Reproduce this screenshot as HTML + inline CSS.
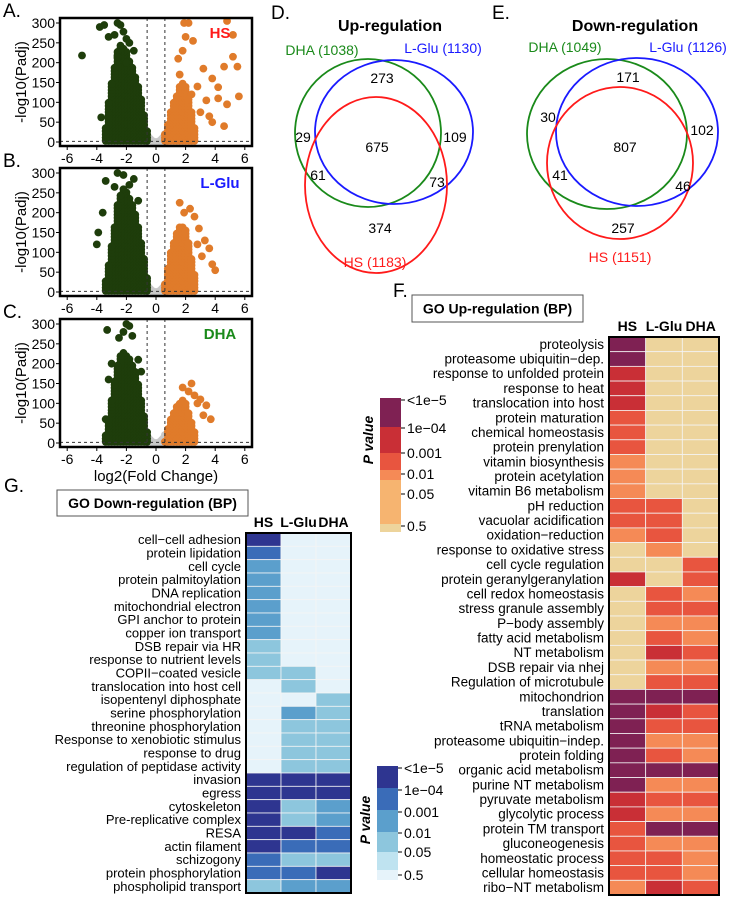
<!DOCTYPE html>
<html><head><meta charset="utf-8">
<style>
html,body{margin:0;padding:0;background:#fff;}
svg{display:block;font-family:"Liberation Sans",sans-serif;}
</style></head>
<body>
<svg id="fig" width="730" height="898" viewBox="0 0 730 898" xmlns="http://www.w3.org/2000/svg">
<g id="volc"></g>
<g id="venn"></g>
<g id="hmF"></g>
<g id="hmG"></g>
</svg>
<script>
// ---------- Volcano data ----------
const volcXTicks = [-6,-4,-2,0,2,4,6];
const volcYTicks = [0,50,100,150,200,250,300];
const panelLetters = ["A.","B.","C."];
const panelNames = ["HS","L-Glu","DHA"];
const downEnvX = [-0.6,-0.8,-1.0,-1.2,-1.4,-1.6,-1.8,-2.0,-2.2,-2.4,-2.6,-2.8,-3.0,-3.2,-3.4];
const upEnvX = [0.6,0.8,1.0,1.2,1.4,1.6,1.8,2.0,2.2,2.4,2.6];
const greyEnvX = [-0.6,-0.5,-0.4,-0.3,-0.2,-0.1,0,0.1,0.2,0.3,0.4,0.5,0.6];
const greyEnvTop = [20,14,8,4,2,1,1,1,2,4,8,14,20];
const downTopA = [30,70,110,140,170,190,210,230,240,250,230,190,150,100,40];
const downTopB = [40,90,130,170,200,220,240,255,260,250,220,170,120,70,30];
const downTopC = [30,70,110,150,180,200,215,225,230,220,200,160,110,60,20];
const upTopA = [20,50,80,100,120,140,150,140,110,80,40];
const upTopB = [20,60,100,130,150,165,170,160,130,90,50];
const upTopC = [10,35,60,80,95,105,110,100,80,55,30];
const downOutA = [[-5,218],[-3.7,62],[-3.8,290],[-3.5,295],[-2.6,300],[-2.4,295],[-2.2,278],[-2.0,260],[-3.2,265],[-2.8,270],[-2.0,200],[-2.6,215],[-1.8,250],[-1.5,230]];
const downOutB = [[-2.6,300],[-2.2,295],[-3.4,280],[-1.5,285],[-3.9,150],[-4.0,120],[-1.8,270],[-2.8,265],[-3.6,200],[-1.2,230]];
const downOutC = [[-2.0,300],[-1.8,295],[-2.2,280],[-1.6,270],[-3.3,285],[-2.5,265],[-1.2,210],[-3.0,200],[-3.4,60],[-1.0,180],[-3.2,160]];
const upOutA = [[1.9,300],[2.2,300],[4.8,305],[5.2,270],[2.0,265],[2.5,255],[1.5,210],[1.8,230],[3.2,185],[3.8,160],[4.6,190],[5.5,190],[5.2,215],[4.2,110],[4.8,95],[5.6,115],[3.4,105],[3.0,75],[3.8,50],[4.6,40],[3.6,65],[2.8,140],[2.4,120],[1.6,170],[4.2,138]];
const upOutB = [[1.6,225],[2.3,210],[2.6,190],[2.9,160],[3.3,130],[3.6,110],[3.1,90],[3.8,70],[4.0,55],[2.8,120],[1.9,200]];
const upOutC = [[1.8,140],[2.2,130],[2.6,120],[3.0,110],[3.4,95],[3.7,60],[2.8,100],[3.2,70],[2.4,150]];

const NS="http://www.w3.org/2000/svg";
function mk(tag, attrs, parent){const e=document.createElementNS(NS,tag);for(const k in attrs)e.setAttribute(k,attrs[k]);if(parent)parent.appendChild(e);return e;}
function txt(parent,x,y,s,size,opts){const t=mk('text',Object.assign({x:x,y:y,'font-size':size},opts||{}),parent);t.textContent=s;return t;}

const volc=document.getElementById('volc');
const panelTops=[18,168,319];
const nameColors=["#ff1a1a","#1a1aff","#1a8a1a"];
const downTops=[downTopA,downTopB,downTopC];
const upTops=[upTopA,upTopB,upTopC];
const downOuts=[downOutA,downOutB,downOutC];
const upOuts=[upOutA,upOutB,upOutC];
const VL=60,VR=252;
function vx(v){return 156+v*14.8;}
panelTops.forEach((top,p)=>{
  const g=mk('g',{},volc);
  
  
  function vy(v){return top+5+(300-v)/300*119;}
  const clip='clipV'+p;
  const cp=mk('clipPath',{id:clip},g);mk('rect',{x:VL,y:top,width:VR-VL,height:128},cp);
  const pts=mk('g',{'clip-path':'url(#'+clip+')'},g);
  function dot(x,y,c){const d=mk('circle',{cx:vx(x),cy:vy(y),r:3.9,fill:c},pts);
    
    }
  greyEnvX.forEach((x,i)=>{for(let y=0;y<=greyEnvTop[i];y+=4)dot(x,y,'#c8c8c8');});
  downEnvX.forEach((x,i)=>{for(let y=3;y<=downTops[p][i];y+=8)dot(x,y,'#1e3d0b');});
  downOuts[p].forEach(d=>dot(d[0],d[1],'#1e3d0b'));
  upEnvX.forEach((x,i)=>{for(let y=3;y<=upTops[p][i];y+=8)dot(x,y,'#e07b2a');});
  upOuts[p].forEach(d=>dot(d[0],d[1],'#e07b2a'));
  // threshold lines
  const th=mk('g',{stroke:'#333','stroke-width':1,'stroke-dasharray':'3,3'},g);
  
  
  mk('line',{x1:vx(-0.6),x2:vx(-0.6),y1:top,y2:top+128},th);
  mk('line',{x1:vx(0.6),x2:vx(0.6),y1:top,y2:top+128},th);
  mk('line',{x1:VL,x2:VR,y1:vy(1.5),y2:vy(1.5)},th);
  const fr=mk('rect',{x:VL,y:top,width:VR-VL,height:128,fill:'none',stroke:'#000','stroke-width':2.5},g);
  
  
  volcYTicks.forEach(v=>{
    mk('line',{x1:VL-4,x2:VL,y1:vy(v),y2:vy(v),stroke:'#000','stroke-width':1},g);
    const t=txt(g,VL-5,vy(v)+5,String(v),14,{'text-anchor':'end'});
    
    
  });
  volcXTicks.forEach(v=>{
    mk('line',{x1:vx(v),x2:vx(v),y1:top+128,y2:top+132,stroke:'#000','stroke-width':1},g);
    const t=txt(g,vx(v),top+145,String(v),14,{'text-anchor':'middle'});
    
    
  });
  const yl=txt(g,0,0,'-log10(Padj)',15,{'text-anchor':'middle',transform:'translate(26,'+(top+64)+') rotate(-90)'});
  
  
  const pl=txt(g,3,top-1,panelLetters[p],19,{});
  
  
  const nm=txt(g,220,top+20,panelNames[p],15,{'text-anchor':'middle','font-weight':'bold',fill:nameColors[p]});
  
  
});
const xt=txt(volc,156,481,'log2(Fold Change)',15,{'text-anchor':'middle'});



// ---------- Venn ----------
const vennUpCounts=["273","29","675","109","61","73","374"];
const vennDownCounts=["171","30","807","102","41","46","257"];
const vennUpSets=["DHA (1038)","L-Glu (1130)","HS (1183)"];
const vennDownSets=["DHA (1049)","L-Glu (1126)","HS (1151)"];
const venn=document.getElementById('venn');
function drawVenn(cfg){
  const g=mk('g',{},venn);
  
  
  txt(g,cfg.letter[0],cfg.letter[1],cfg.letterText,19,{});
  const t=txt(g,cfg.title[0],cfg.title[1],cfg.titleText,16,{'text-anchor':'middle','font-weight':'bold'});
  
  
  const cols=['#1a8a1a','#1a1aff','#ff1a1a'];
  cfg.ell.forEach((e,i)=>{
    const el=mk('ellipse',{cx:e[0],cy:e[1],rx:e[2],ry:e[3],fill:'none',stroke:cols[i],'stroke-width':1.8},g);
    
    
    const l=txt(g,cfg.labels[i][0],cfg.labels[i][1],cfg.sets[i],14,{'text-anchor':'middle',fill:cols[i]});
    
    
  });
  cfg.counts.forEach((c,i)=>{
    const n=txt(g,cfg.pos[i][0],cfg.pos[i][1]+5,c,14,{'text-anchor':'middle'});
    
    
  });
}
drawVenn({name:'venn-up',letter:[271,19],letterText:'D.',title:[390,31],titleText:'Up-regulation',
  ell:[[368,133,73,74],[394,132,79,72],[376,185,71,88]],labels:[[322,55],[443,53],[375,267]],sets:vennUpSets,
  counts:vennUpCounts,pos:[[382,78],[303,137],[377,147],[455,137],[318,175],[437,182],[380,228]]});
drawVenn({name:'venn-down',letter:[492,19],letterText:'E.',title:[635,31],titleText:'Down-regulation',
  ell:[[607,134,80,75],[637,132,81,74],[620,163,73,76]],labels:[[565,52],[688,52],[620,262]],sets:vennDownSets,
  counts:vennDownCounts,pos:[[628,77],[548,117],[625,147],[702,130],[560,175],[683,186],[623,228]]});

// ---------- Heatmap F ----------
const colLabels=["HS","L-Glu","DHA"];
const upTerms=["proteolysis","proteasome ubiquitin\u2212dep.","response to unfolded protein","response to heat","translocation into host","protein maturation","chemical homeostasis","protein prenylation","vitamin biosynthesis","protein acetylation","vitamin B6 metabolism","pH reduction","vacuolar acidification","oxidation\u2212reduction","response to oxidative stress","cell cycle regulation","protein geranylgeranylation","cell redox homeostasis","stress granule assembly","P\u2212body assembly","fatty acid metabolism","NT metabolism","DSB repair via nhej","Regulation of microtubule","mitochondrion","translation","tRNA metabolism","proteasome ubiquitin\u2212indep.","protein folding","organic acid metabolism","purine NT metabolism","pyruvate metabolism","glycolytic process","protein TM transport","gluconeogenesis","homeostatic process","cellular homeostasis","ribo\u2212NT metabolism"];
const upHS  =[0,0,1,1,1,2,2,2,3,3,3,2,2,3,5,5,1,5,5,5,5,5,5,5,0,0,0,0,0,0,0,1,1,2,2,2,2,3];
const upLGlu=[5,5,5,5,5,5,5,5,5,5,5,2,2,2,3,5,5,2,2,3,2,1,3,2,0,1,2,3,2,0,3,2,3,0,3,2,2,1];
const upDHA =[5,5,5,5,5,5,5,5,5,5,5,5,5,5,5,2,2,3,2,3,3,2,3,2,0,2,2,3,3,0,3,2,3,0,3,3,3,2];
const legendLabels=["<1e\u22125","1e\u221204","0.001","0.01","0.05","0.5"];
const redPalette=["#7f2153","#c92f36","#e8553f","#f58a56","#f6b470","#edd49c"];
const bluePalette=["#2e3590","#3a6cb8","#5b9fcc","#8dc6dd","#bfe3f0","#e6f3fa"];

function drawHeatmap(root,o){
  const n=o.terms.length, rh=(o.y1-o.y0)/n, cw=(o.x1-o.x0)/3;
  const cols=[o.a,o.b,o.c];
  const box=mk('rect',{x:o.box[0],y:o.box[1],width:o.box[2],height:o.box[3],fill:'#fff',stroke:'#555','stroke-width':1},root);
  
  
  const tt=txt(root,o.box[0]+o.box[2]/2,o.box[1]+o.box[3]/2+5,o.title,14,{'text-anchor':'middle','font-weight':'bold'});
  
  
  txt(root,o.letter[0],o.letter[1],o.letterText,19,{});
  colLabels.forEach((c,j)=>{
    const l=txt(root,o.x0+cw*(j+0.5),o.y0-6,c,14,{'text-anchor':'middle','font-weight':'bold'});
    
    
  });
  o.terms.forEach((t,i)=>{
    const y=o.y0+i*rh;
    const l=txt(root,o.x0-5,y+rh/2+4.5,t,o.fs,{'text-anchor':'end'});
    
    
    cols.forEach((arr,j)=>{
      const r=mk('rect',{x:o.x0+j*cw,y:y,width:cw,height:rh,fill:o.pal[arr[i]],stroke:'#f4f4f4','stroke-width':0.8},root);
      
      
    });
  });
  const fr=mk('rect',{x:o.x0,y:o.y0,width:o.x1-o.x0,height:o.y1-o.y0,fill:'none',stroke:'#000','stroke-width':2},root);
  
  
  // legend
  const lg=mk('g',{},root);
  
  
  o.lseg.forEach((s,k)=>{
    const r=mk('rect',{x:o.lx,y:s[0],width:21,height:s[1]-s[0],fill:o.pal[k]},lg);
    
    
  });
  legendLabels.forEach((s,k)=>{
    mk('line',{x1:o.lx+21,x2:o.lx+25,y1:o.lticks[k],y2:o.lticks[k],stroke:'#000','stroke-width':1},lg);
    const l=txt(lg,o.lx+27,o.lticks[k]+5,s,14,{});
    
    
  });
  const pv=txt(lg,0,0,'P value',14,{'text-anchor':'middle','font-weight':'bold','font-style':'italic',transform:'translate('+(o.lx-7)+','+o.pvy+') rotate(-90)'});
  
  
}
drawHeatmap(document.getElementById('hmF'),{terms:upTerms,a:upHS,b:upLGlu,c:upDHA,pal:redPalette,
  x0:609,x1:719,y0:337,y1:895,fs:13.5,box:[412,295,171,27],title:'GO Up-regulation (BP)',letter:[393,297],letterText:'F.',
  lx:380,lseg:[[398,427],[427,453],[453,470],[470,480],[480,524],[524,532]],lticks:[400,428,453,474,494,526],pvy:440});

// ---------- Heatmap G ----------
const downTerms=["cell\u2212cell adhesion","protein lipidation","cell cycle","protein palmitoylation","DNA replication","mitochondrial electron","GPI anchor to protein","copper ion transport","DSB repair via HR","response to nutrient levels","COPII\u2212coated vesicle","translocation into host cell","isopentenyl diphosphate","serine phosphorylation","threonine phosphorylation","Response to xenobiotic stimulus","response to drug","regulation of peptidase activity","invasion","egress","cytoskeleton","Pre-replicative complex","RESA","actin filament","schizogony","protein phosphorylation","phospholipid transport"];
const downHS  =[0,1,2,2,2,2,2,2,3,3,3,5,5,5,5,5,5,5,0,0,0,0,0,0,1,1,3];
const downLGlu=[5,5,5,5,5,5,5,5,5,5,3,3,5,2,3,3,3,3,0,0,3,3,0,1,3,1,2];
const downDHA =[5,5,5,5,5,5,5,5,5,5,5,5,3,3,3,3,3,3,0,0,2,2,1,1,3,0,2];
drawHeatmap(document.getElementById('hmG'),{terms:downTerms,a:downHS,b:downLGlu,c:downDHA,pal:bluePalette,
  x0:246,x1:351,y0:533,y1:893,fs:13,box:[57,490,191,26],title:'GO Down-regulation (BP)',letter:[4,492],letterText:'G.',
  lx:377,lseg:[[766,788],[788,810],[810,832],[832,852],[852,870],[870,880]],lticks:[768,790,812,833,852,875],pvy:820});
</script>
</body></html>
